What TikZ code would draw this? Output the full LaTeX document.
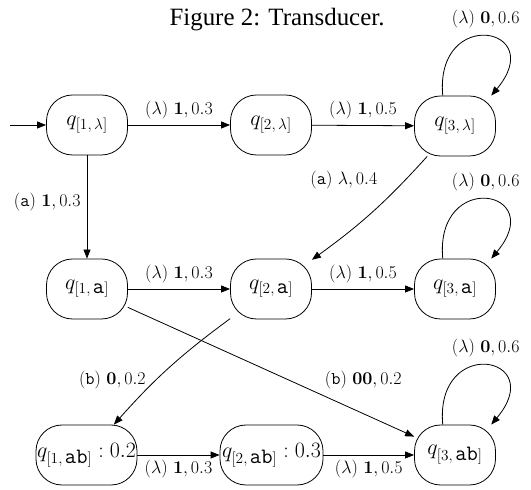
\RequirePackage{fix-cm}
\documentclass[tikz,border=0pt]{standalone}
\usepackage[no-math]{fontspec}
\newfontfamily\titlefont{Liberation Serif}
\usepackage{tikz}
\usetikzlibrary{arrows.meta, positioning}

\begin{document}
\begin{tikzpicture}[
        x=1bp, y=1bp,
        state/.style={
            rectangle, rounded corners=26bp,
            draw=black, line width=0.8bp,
            minimum width=81bp, minimum height=60bp, inner sep=1bp,
            font=\fontsize{22}{26}\selectfont
        },
        trans/.style={-{Triangle[length=9bp, width=7bp]}, line width=0.8bp},
        lbl/.style={font=\fontsize{18}{21}\selectfont, inner sep=2bp}
    ]
        \useasboundingbox (0,0) rectangle (531,490);

        \node[font=\titlefont\fontsize{25}{30}\selectfont] (title) at (277,470) {Figure 2: Transducer.};

        % first row
        \node[state] (q1l) at (87,365) {$q_{[1,\,\lambda]}$};
        \node[state] (q2l) at (271,365) {$q_{[2,\,\lambda]}$};
        \node[state] (q3l) at (455,364) {$q_{[3,\,\lambda]}$};

        % second row
        \node[state] (q1a) at (87,201) {$q_{[1,\,\texttt{a}]}$};
        \node[state] (q2a) at (271,201) {$q_{[2,\,\texttt{a}]}$};
        \node[state] (q3a) at (455,201) {$q_{[3,\,\texttt{a}]}$};

        % third row
        \node[state, minimum width=101bp] (q1ab) at (86.5,35) {$q_{[1,\,\texttt{ab}]}:0.2$};
        \node[state, minimum width=103bp] (q2ab) at (271.5,35) {$q_{[2,\,\texttt{ab}]}:0.3$};
        \node[state] (q3ab) at (455,35) {$q_{[3,\,\texttt{ab}]}$};

        \coordinate (start) at (10,365);
        \draw[trans] (start) -- (q1l);

        \draw[trans] (q1l) -- (q2l)
            node[lbl, midway, above=4bp] {$(\lambda)\ \mathbf{1}, 0.3$};
        \draw[trans] (q2l) -- (q3l)
            node[lbl, midway, above=4bp] {$(\lambda)\ \mathbf{1}, 0.5$};
        \draw[trans] (q1l) -- (q1a)
            node[lbl, pos=0.45, left=4bp] {$(\texttt{a})\ \mathbf{1}, 0.3$};
        \draw[trans] (q3l) to[bend left=6]
            node[lbl, pos=0.3, above left=0bp and 14bp] {$(\texttt{a})\ \lambda, 0.4$} (q2a);

        \draw[trans] (q1a) -- (q2a)
            node[lbl, midway, above=4bp] {$(\lambda)\ \mathbf{1}, 0.3$};
        \draw[trans] (q2a) -- (q3a)
            node[lbl, midway, above=4bp] {$(\lambda)\ \mathbf{1}, 0.5$};
        \draw[trans] (q2a) to[bend right=6]
            node[lbl, pos=0.62, left=8bp] {$(\texttt{b})\ \mathbf{0}, 0.2$} (q1ab);
        \draw[trans] (q1a) -- (q3ab)
            node[lbl, pos=0.68, above right=4bp and 0bp] {$(\texttt{b})\ \mathbf{00}, 0.2$};

        \draw[trans] (q1ab) -- (q2ab)
            node[lbl, midway, below=3bp] {$(\lambda)\ \mathbf{1}, 0.3$};
        \draw[trans] (q2ab) -- (q3ab)
            node[lbl, midway, below=3bp] {$(\lambda)\ \mathbf{1}, 0.5$};

        % self loops
        \draw[trans] (q3l.112) to[out=95, in=50, distance=90bp]
            node[lbl, pos=0.5, above=6bp] {$(\lambda)\ \mathbf{0}, 0.6$} (q3l.40);
        \draw[trans] (q3a.112) to[out=95, in=50, distance=90bp]
            node[lbl, pos=0.5, above=6bp] {$(\lambda)\ \mathbf{0}, 0.6$} (q3a.40);
        \draw[trans] (q3ab.112) to[out=95, in=50, distance=90bp]
            node[lbl, pos=0.5, above=6bp] {$(\lambda)\ \mathbf{0}, 0.6$} (q3ab.40);
    \end{tikzpicture}
\end{document}
